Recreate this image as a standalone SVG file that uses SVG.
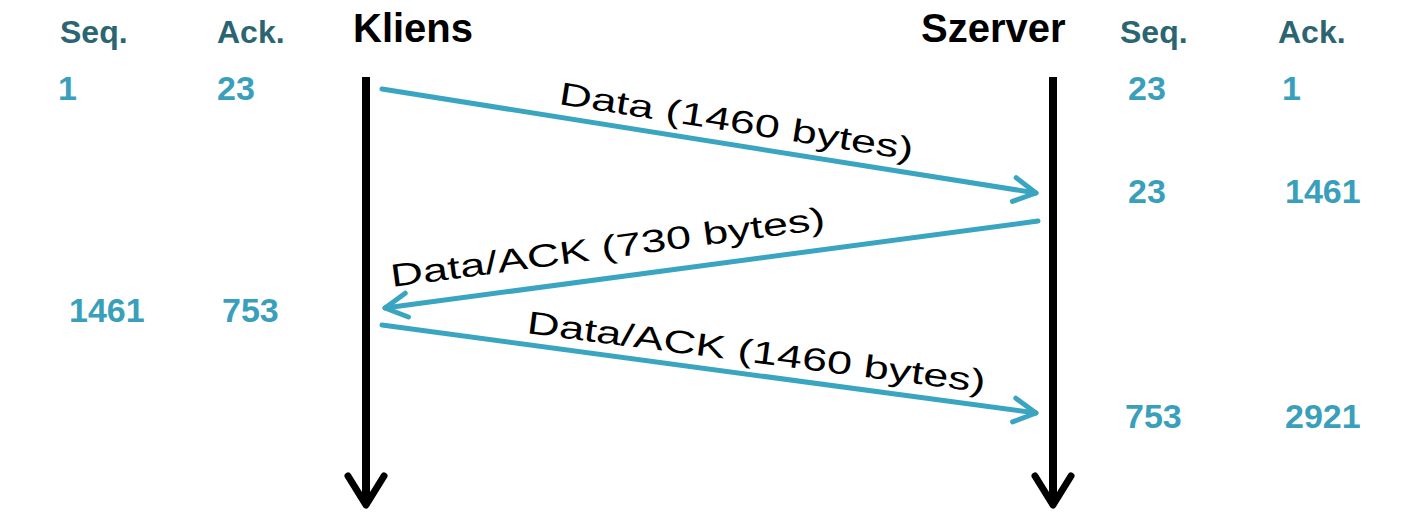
<svg xmlns="http://www.w3.org/2000/svg" width="1409" height="520" viewBox="0 0 1409 520">
<style>
.hdr{font-family:"Liberation Sans",Arial,sans-serif;font-weight:bold;font-size:32px;fill:#2b6571}
.num{font-family:"Liberation Sans",Arial,sans-serif;font-weight:bold;font-size:34px;fill:#3a9fbb}
.ttl{font-family:"Liberation Sans",Arial,sans-serif;font-weight:bold;font-size:40px;fill:#000}
.lbl{font-family:"Liberation Sans",Arial,sans-serif;font-size:32px;fill:#000}
.msg{stroke:#3aa5c1;stroke-width:5;fill:none;stroke-linecap:round}
.life{stroke:#000;stroke-width:8;fill:none}
</style>
<defs>
<marker id="bh" markerUnits="userSpaceOnUse" viewBox="-28 -16 32 32" markerWidth="32" markerHeight="32" refX="0" refY="0" orient="auto">
<path d="M-22,-12 L0,0 L-22,12" stroke="#3aa5c1" stroke-width="5" fill="none" stroke-linecap="round" stroke-linejoin="round"/>
</marker>
<marker id="kh" markerUnits="userSpaceOnUse" viewBox="-36 -22 40 44" markerWidth="40" markerHeight="44" refX="0" refY="0" orient="auto">
<path d="M-29,-18 L0,0 L-29,18" stroke="#000" stroke-width="7" fill="none" stroke-linecap="round" stroke-linejoin="round"/>
</marker>
</defs>
<rect width="1409" height="520" fill="#fff"/>
<g id="kliens">
<text class="ttl" x="353" y="42">Kliens</text>
<line class="life" x1="366" y1="77" x2="366" y2="505" marker-end="url(#kh)"/>
</g>
<g id="szerver">
<text class="ttl" x="921" y="42">Szerver</text>
<line class="life" x1="1053" y1="77" x2="1053" y2="505" marker-end="url(#kh)"/>
</g>
<g id="kliens-table">
<text class="hdr" x="60" y="43">Seq.</text>
<text class="hdr" x="217" y="43">Ack.</text>
<text class="num" x="58" y="100">1</text>
<text class="num" x="217" y="100">23</text>
<text class="num" x="69" y="322">1461</text>
<text class="num" x="222" y="322">753</text>
</g>
<g id="szerver-table">
<text class="hdr" x="1120" y="43">Seq.</text>
<text class="hdr" x="1278" y="43">Ack.</text>
<text class="num" x="1128" y="100">23</text>
<text class="num" x="1282" y="100">1</text>
<text class="num" x="1128" y="203">23</text>
<text class="num" x="1285" y="203">1461</text>
<text class="num" x="1125" y="428">753</text>
<text class="num" x="1285" y="428">2921</text>
</g>
<g id="connectors">
<line class="msg" x1="382" y1="89" x2="1036" y2="193" marker-end="url(#bh)"/>
<line class="msg" x1="1038" y1="221" x2="385" y2="308" marker-end="url(#bh)"/>
<line class="msg" x1="382" y1="325" x2="1036" y2="413" marker-end="url(#bh)"/>
<text class="lbl" x="558" y="104" transform="rotate(9 558 104)" textLength="358" lengthAdjust="spacingAndGlyphs">Data (1460 bytes)</text>
<text class="lbl" x="392" y="287" transform="rotate(-7.6 392 287)" textLength="438" lengthAdjust="spacingAndGlyphs">Data/ACK (730 bytes)</text>
<text class="lbl" x="526" y="333" transform="rotate(7.4 526 333)" textLength="462" lengthAdjust="spacingAndGlyphs">Data/ACK (1460 bytes)</text>
</g>
</svg>
